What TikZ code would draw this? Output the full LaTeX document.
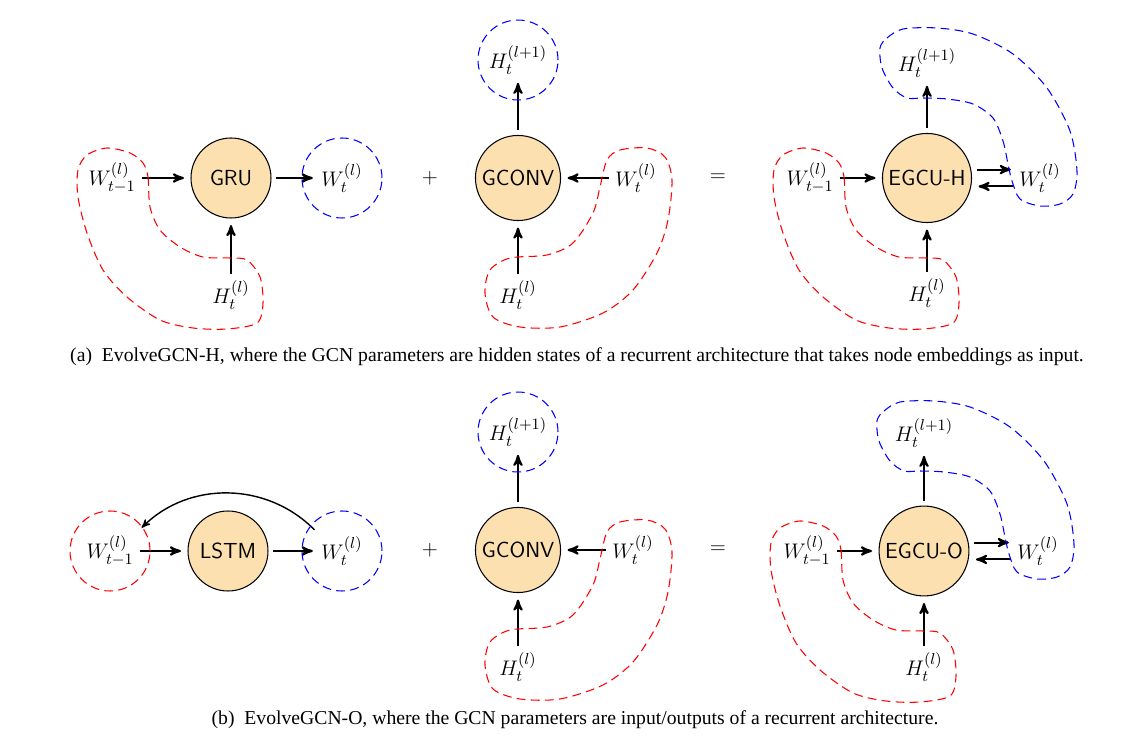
\documentclass[tikz,border=0pt]{standalone}
\usepackage{fontspec}
\newfontfamily\capfont{Liberation Serif}
\usetikzlibrary{arrows,positioning}
\definecolor{unitfill}{RGB}{252,224,176}

\begin{document}
\begin{tikzpicture}[x=0.02cm,y=0.02cm,>=stealth',shorten >=1pt,node distance=2.35cm,
                    very thick,font=\fontsize{12.4}{15}\selectfont,
                    unit node/.style={circle,draw,semithick,fill=unitfill,minimum size=1.6cm,
                      inner sep=2.5pt,outer sep=3pt,font=\fontsize{12.4}{15}\selectfont\sffamily},
                    red blob/.style={draw=red,semithick,dash pattern=on 5pt off 3pt},
                    blue blob/.style={draw=blue,semithick,dash pattern=on 5pt off 3pt},
                    caption/.style={font=\fontsize{11.2}{13}\selectfont\capfont}]
  \useasboundingbox (0,0) rectangle (1137,-749);

  % (a) EvolveGCN-H
  \node[unit node] (gru) at (231,-178) {GRU};
  \node (wprev) [left of=gru, node distance=2.38cm] {$W_{t-1}^{(l)}$};
  \node (wout) [right of=gru, node distance=2.22cm] {$W_t^{(l)}$};
  \node (hin) [below of=gru, node distance=2.34cm] {$H_t^{(l)}$};
  \draw[->] (wprev) -- (gru);
  \draw[->] (gru) -- (wout);
  \draw[->] (hin) -- (gru);
  \draw[blue blob] (wout) circle (40);
  \draw[red blob, shift={(gru)}] plot[smooth cycle] coordinates {(-88,15) (-83,1) (-81,-29)
    (-71,-52) (-51,-69) (-28,-79) (-1,-80) (16,-82) (29,-99) (32,-125) (26,-145) (-4,-151)
    (-38,-150) (-71,-142) (-104,-119) (-128,-92) (-144,-55) (-153,-19) (-153,8) (-144,23)
    (-124,30) (-101,25)};

  \node (plusa) at (430,-178) {$+$};

  \node[unit node] (gconva) at (518,-178) {GCONV};
  \node (hnexta) [above of=gconva, node distance=2.36cm] {$H_t^{(l+1)}$};
  \node (wgca) [right of=gconva, node distance=2.36cm] {$W_t^{(l)}$};
  \node (hgca) [below of=gconva, node distance=2.34cm] {$H_t^{(l)}$};
  \draw[->] (gconva) -- (hnexta);
  \draw[->] (wgca) -- (gconva);
  \draw[->] (hgca) -- (gconva);
  \draw[blue blob] (hnexta) circle (40);
  \draw[red blob, shift={(gconva)}] plot[smooth cycle] coordinates {(89,18) (102,28) (129,30)
    (147,21) (154,-2) (150,-42) (139,-75) (115,-112) (85,-135) (42,-149) (2,-149) (-25,-139)
    (-33,-115) (-28,-92) (-8,-80) (29,-77) (55,-65) (75,-35) (82,-9)};

  \node (eqa) at (718,-178) {$=$};

  \node[unit node] (egcuh) at (927,-178) {EGCU-H};
  \node (wprevh) [left of=egcuh, node distance=2.34cm] {$W_{t-1}^{(l)}$};
  \node (hnexth) [above of=egcuh, node distance=2.3cm] {$H_t^{(l+1)}$};
  \node (wcurh) [right of=egcuh, node distance=2.26cm] {$W_t^{(l)}$};
  \node (hinh) [below of=egcuh, node distance=2.3cm] {$H_t^{(l)}$};
  \draw[->] (wprevh) -- (egcuh);
  \draw[->] (egcuh) -- (hnexth);
  \draw[->] (hinh) -- (egcuh);
  \draw[->] ([yshift=4.8pt]egcuh.east) -- ([yshift=4.8pt]wcurh.west);
  \draw[->] ([yshift=-4.8pt]wcurh.west) -- ([yshift=-4.8pt]egcuh.east);
  \draw[red blob, shift={(egcuh)}] plot[smooth cycle] coordinates {(-88,15) (-83,1) (-81,-29)
    (-71,-52) (-51,-69) (-28,-79) (-1,-80) (16,-82) (29,-99) (32,-125) (26,-145) (-4,-151)
    (-38,-150) (-71,-142) (-104,-119) (-128,-92) (-144,-55) (-153,-19) (-153,8) (-144,23)
    (-124,30) (-101,25)};
  \draw[blue blob, shift={(egcuh)}] plot[smooth cycle] coordinates {(-47,130) (-40,140)
    (-24,149) (10,150) (46,144) (86,124) (120,90) (143,47) (150,7) (146,-16) (133,-26)
    (113,-28) (93,-21) (85,-3) (81,14) (76,37) (66,60) (46,74) (20,79) (-4,80) (-20,80)
    (-34,90) (-45,110)};

  \node[caption] (capa) at (577,-357) {(a)\enspace EvolveGCN-H, where the GCN parameters are hidden states of a recurrent architecture that takes node embeddings as input.};

  % (b) EvolveGCN-O
  \node[unit node] (lstm) at (228,-551) {LSTM};
  \node (wa) [left of=lstm, node distance=2.36cm] {$W_{t-1}^{(l)}$};
  \node (wb) [right of=lstm, node distance=2.28cm] {$W_t^{(l)}$};
  \draw[->] (wa) -- (lstm);
  \draw[->] (lstm) -- (wb);
  \draw[->,thick] (wb.north west) to[bend right=45] (wa.north east);
  \draw[red blob] (wa) circle (40);
  \draw[blue blob] (wb) circle (40);

  \node (plusb) at (430,-550) {$+$};

  \node[unit node] (gconvb) at (518,-550) {GCONV};
  \node (hnextb) [above of=gconvb, node distance=2.36cm] {$H_t^{(l+1)}$};
  \node (wgcb) [right of=gconvb, node distance=2.3cm] {$W_t^{(l)}$};
  \node (hgcb) [below of=gconvb, node distance=2.34cm] {$H_t^{(l)}$};
  \draw[->] (gconvb) -- (hnextb);
  \draw[->] (wgcb) -- (gconvb);
  \draw[->] (hgcb) -- (gconvb);
  \draw[blue blob] (hnextb) circle (40);
  \draw[red blob, shift={(gconvb)}] plot[smooth cycle] coordinates {(89,18) (102,28) (129,30)
    (147,21) (154,-2) (150,-42) (139,-75) (115,-112) (85,-135) (42,-149) (2,-149) (-25,-139)
    (-33,-115) (-28,-92) (-8,-80) (29,-77) (55,-65) (75,-35) (82,-9)};

  \node (eqb) at (718,-550) {$=$};

  \node[unit node] (egcuo) at (924,-551) {EGCU-O};
  \node (wprevo) [left of=egcuo, node distance=2.34cm] {$W_{t-1}^{(l)}$};
  \node (hnexto) [above of=egcuo, node distance=2.36cm] {$H_t^{(l+1)}$};
  \node (wcuro) [right of=egcuo, node distance=2.28cm] {$W_t^{(l)}$};
  \node (hino) [below of=egcuo, node distance=2.32cm] {$H_t^{(l)}$};
  \draw[->] (wprevo) -- (egcuo);
  \draw[->] (egcuo) -- (hnexto);
  \draw[->] (hino) -- (egcuo);
  \draw[->] ([yshift=4.8pt]egcuo.east) -- ([yshift=4.8pt]wcuro.west);
  \draw[->] ([yshift=-4.8pt]wcuro.west) -- ([yshift=-4.8pt]egcuo.east);
  \draw[red blob, shift={(egcuo)}] plot[smooth cycle] coordinates {(-88,15) (-83,1) (-81,-29)
    (-71,-52) (-51,-69) (-28,-79) (-1,-80) (16,-82) (29,-99) (32,-125) (26,-145) (-4,-151)
    (-38,-150) (-71,-142) (-104,-119) (-128,-92) (-144,-55) (-153,-19) (-153,8) (-144,23)
    (-124,30) (-101,25)};
  \draw[blue blob, shift={(egcuo)}] plot[smooth cycle] coordinates {(-47,130) (-40,140)
    (-24,149) (10,150) (46,144) (86,124) (120,90) (143,47) (150,7) (146,-16) (133,-26)
    (113,-28) (93,-21) (85,-3) (81,14) (76,37) (66,60) (46,74) (20,79) (-4,80) (-20,80)
    (-34,90) (-45,110)};

  \node[caption] (capb) at (575,-720) {(b)\enspace EvolveGCN-O, where the GCN parameters are input/outputs of a recurrent architecture.};
\end{tikzpicture}
\end{document}
